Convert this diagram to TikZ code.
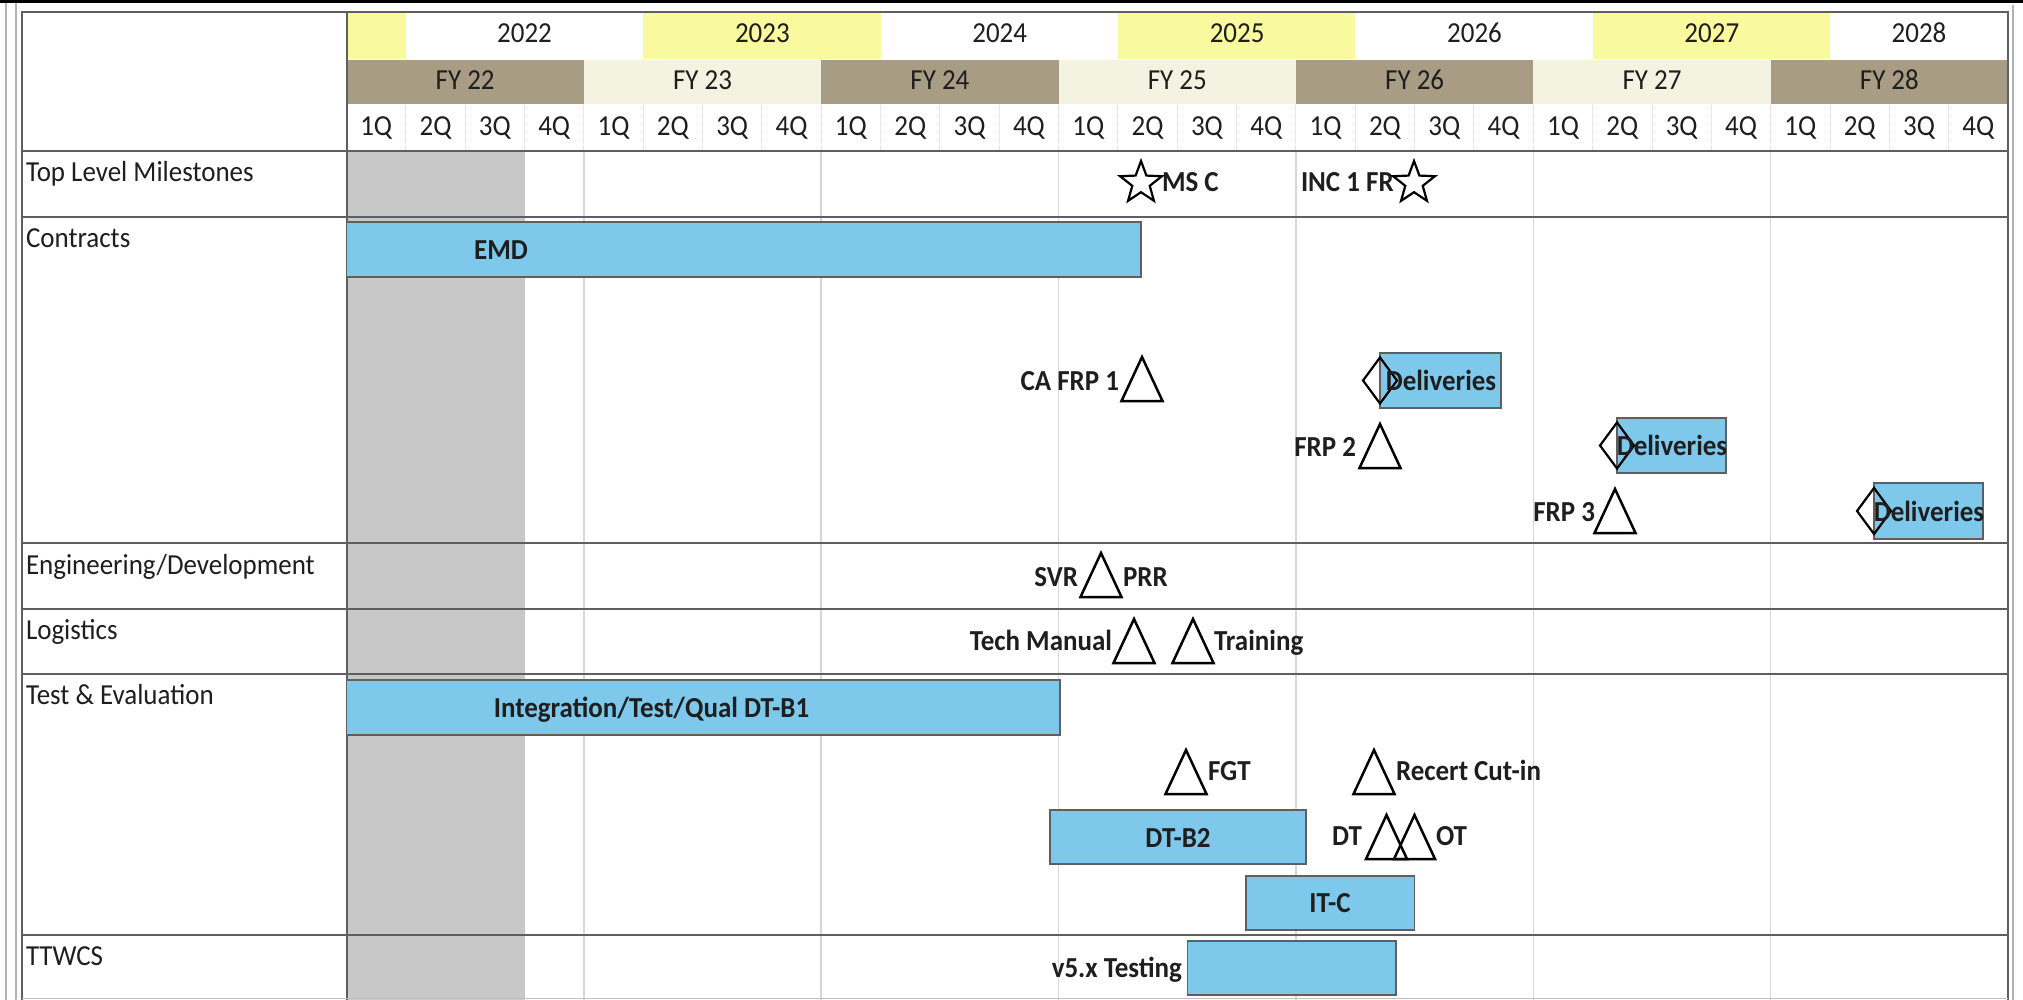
\documentclass[tikz,border=0pt]{standalone}
\usepackage{fontspec}
\setmainfont{Carlito}[FakeStretch=0.93]
\usetikzlibrary{shapes.geometric}
\definecolor{barblue}{RGB}{125,200,235}
\definecolor{taupe}{RGB}{168,156,132}
\definecolor{cream}{RGB}{244,242,224}
\definecolor{pyellow}{RGB}{249,250,158}
\definecolor{shadegray}{RGB}{200,200,200}
\definecolor{rowline}{RGB}{95,95,95}
\definecolor{gridl}{RGB}{215,215,215}
\definecolor{txt}{RGB}{30,30,30}
\newcommand\mstri[1]{\draw[tri] (#1) -- ++(-20.5,44) -- ++(41,0) -- cycle;}
\begin{document}
\begin{tikzpicture}[x=1pt,y=-1pt,
  every node/.style={inner sep=0pt,outer sep=0pt,text=txt,font=\fontsize{29}{34}\selectfont},
  lbl/.style={anchor=base west},
  hdr/.style={anchor=base},
  bold/.style={font=\fontsize{29}{34}\selectfont\bfseries},
  bar/.style={draw=rowline,line width=1.5pt,fill=barblue,anchor=north west},
  tri/.style={draw=black,line width=2.5pt,fill=white,line join=miter},
  ms/.style={star,star points=5,star point ratio=2.4,draw=black,line width=2.2pt,fill=white,minimum size=44pt},
  dia/.style={diamond,draw=black,line width=2.2pt,minimum width=34pt,minimum height=46pt},
  rowsep/.style={draw=rowline,line width=2.5pt},
  fyline/.style={draw=gridl,line width=1.5pt},
]
\useasboundingbox (0,0) rectangle (2023,1000);
\fill[white] (0,0) rectangle (2023,1000);
% outer decorations
\draw[black,line width=3pt] (0,1.5) -- (2023,1.5);
\draw[gray!60,line width=1.2pt] (6,3) -- (6,1000);
\draw[gray!60,line width=1.2pt] (16,3) -- (16,1000);
\draw[gray!60,line width=1.2pt] (2013,5) -- (2013,1000);
% year row
\fill[pyellow] (346.5,12) rectangle (405.84,59);
\fill[pyellow] (643.2,12) rectangle (880.56,59);
\fill[pyellow] (1117.92,12) rectangle (1355.28,59);
\fill[pyellow] (1592.64,12) rectangle (1830.0,59);
\foreach \yr/\cx in {2022/524.5,2023/762.4,2024/999.7,2025/1237.1,2026/1474.5,2027/1711.8,2028/1919.0}{
  \node[hdr] (y\yr) at (\cx,43) {\yr};
}
% FY row
\foreach \k in {0,...,6}{
  \pgfmathsetmacro\xa{346.5+237.36*\k}
  \pgfmathsetmacro\xb{346.5+237.36*(\k+1)}
  \pgfmathsetmacro\xc{346.5+237.36*(\k+0.5)}
  \pgfmathtruncatemacro\fy{22+\k}
  \pgfmathtruncatemacro\ev{mod(\k,2)}
  \ifnum\ev=0 \fill[taupe] (\xa,60) rectangle (\xb,104.5); \else \fill[cream] (\xa,60) rectangle (\xb,104.5); \fi
  \node[hdr] (fy\fy) at (\xc,90) {FY \fy};
}
% quarter row
\foreach \i in {0,...,27}{
  \pgfmathsetmacro\xc{346.5+59.34*(\i+0.5)}
  \pgfmathsetmacro\xs{346.5+59.34*(\i+1)}
  \pgfmathtruncatemacro\qn{mod(\i,4)+1}
  \node[hdr] (q\i) at (\xc,136) {\qn Q};
  \ifnum\i<27 \draw[gridl,line width=1pt,densely dotted] (\xs,105) -- (\xs,151); \fi
}
% shaded past region
\fill[shadegray] (346.5,151) rectangle (524.52,1000);
% fiscal year lines in body
\foreach \xx in {583.86,821.22,1058.58,1295.94,1533.3,1770.66}{
  \draw[fyline] (\xx,151) -- (\xx,1000);
}
% table frame
\draw[rowline,line width=2pt] (21.5,1000) -- (21.5,12) -- (2008,12) -- (2008,1000);
\draw[rowline,line width=2pt] (346.5,12) -- (346.5,1000);
\draw[gray!50,line width=1.2pt] (21.5,998.5) -- (2008,998.5);
\foreach \yy in {151,217,543,609,674,935}{
  \draw[rowsep] (21.5,\yy) -- (2008,\yy);
}
% row labels
\node[lbl] (lTop) at (26,182) {Top Level Milestones};
\node[lbl] (lCon) at (26,248) {Contracts};
\node[lbl] (lEng) at (26,574) {Engineering/Development};
\node[lbl] (lLog) at (26,639) {Logistics};
\node[lbl] (lTE) at (26,704) {Test \& Evaluation};
\node[lbl] (lTT) at (26,965) {TTWCS};
% milestones
\node[ms] (msc) at (1141,183) {};
\node[bold,anchor=base west] (mstxt) at (1162,192) {MS C};
\node[bold,anchor=base west] (inctxt) at (1301,192) {INC 1 FR};
\node[ms] (inc) at (1414,183) {};
% contracts
\node[bar,minimum width=794.5pt,minimum height=55pt] (emd) at (346.5,222) {};
\node[bold,anchor=base] (emdt) at (501,260) {EMD};
\coordinate (cafrp) at (1142,357);
\mstri{cafrp}
\node[bold,anchor=base east] (cafrpt) at (1119,390) {CA FRP 1};
\node[bar,minimum width=121pt,minimum height=55pt] (del1) at (1380,353) {};
\node[dia] (d1) at (del1.west) {};
\node[bold,anchor=base] (del1t) at (1441,390) {Deliveries};
\coordinate (frp2) at (1380,424);
\mstri{frp2}
\node[bold,anchor=base east] (frp2t) at (1356,456) {FRP 2};
\node[bar,minimum width=109pt,minimum height=55pt] (del2) at (1617,418) {};
\node[dia] (d2) at (del2.west) {};
\node[bold,anchor=base] (del2t) at (1672,455) {Deliveries};
\coordinate (frp3) at (1615,489);
\mstri{frp3}
\node[bold,anchor=base east] (frp3t) at (1595,521) {FRP 3};
\node[bar,minimum width=109pt,minimum height=56pt] (del3) at (1874,483) {};
\node[dia] (d3) at (del3.west) {};
\node[bold,anchor=base] (del3t) at (1929,521) {Deliveries};
% engineering
\coordinate (svr) at (1101,553);
\mstri{svr}
\node[bold,anchor=base east] (svrt) at (1078,586) {SVR};
\node[bold,anchor=base west] (prrt) at (1123,586) {PRR};
% logistics
\coordinate (tm) at (1134,619);
\mstri{tm}
\node[bold,anchor=base east] (tmt) at (1112,650) {Tech Manual};
\coordinate (trn) at (1193,619);
\mstri{trn}
\node[bold,anchor=base west] (trnt) at (1214,650) {Training};
% test and evaluation
\node[bar,minimum width=713.5pt,minimum height=55pt] (dtb1) at (346.5,680) {};
\node[bold,anchor=base] (dtb1t) at (651.5,717) {Integration/Test/Qual DT-B1};
\coordinate (fgt) at (1186,750);
\mstri{fgt}
\node[bold,anchor=base west] (fgtt) at (1208,780) {FGT};
\coordinate (rc) at (1374,750);
\mstri{rc}
\node[bold,anchor=base west] (rct) at (1396,780) {Recert Cut-in};
\node[bar,minimum width=256pt,minimum height=54pt] (dtb2) at (1050,810) {};
\node[bold,anchor=base] (dtb2t) at (1178,847) {DT-B2};
\coordinate (dt) at (1386.5,815);
\coordinate (ot) at (1414.5,815);
\draw[tri,fill=none] (dt) -- ++(-20.5,44) -- ++(41,0) -- cycle;
\draw[tri,fill=none] (ot) -- ++(-20.5,44) -- ++(41,0) -- cycle;
\node[bold,anchor=base east] (dtt) at (1362,845) {DT};
\node[bold,anchor=base west] (ott) at (1436,845) {OT};
\node[bar,minimum width=168.5pt,minimum height=54pt] (itc) at (1246,876) {};
\node[bold,anchor=base] (itct) at (1330,912) {IT-C};
% TTWCS
\node[bar,minimum width=208.5pt,minimum height=54pt] (v5) at (1187.5,941) {};
\node[bold,anchor=base east] (v5t) at (1182,977) {v5.x Testing};
\end{tikzpicture}
\end{document}
